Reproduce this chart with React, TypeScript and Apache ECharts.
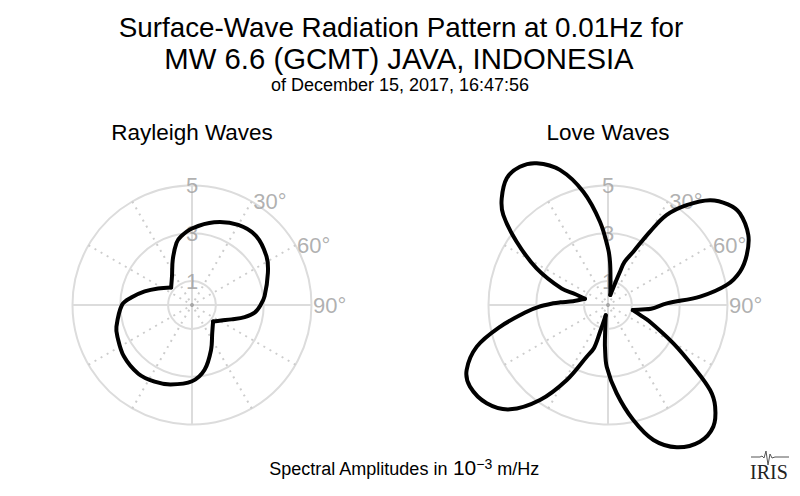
import React, { useEffect, useRef } from 'react';
import * as echarts from 'echarts';

// Rayleigh-wave pattern: azimuth (deg, clockwise from north) and amplitude (1e-3 m/Hz)
const rayleighAngles = [0, 15, 30, 43, 57, 67, 83, 90, 97, 103, 110, 118, 128, 144, 157, 169, 180, 195, 206, 218, 233, 247, 254, 270, 277, 286, 296, 310, 325, 337, 346, 351, 360];
const rayleighRadii = [3.2, 3.58, 3.87, 3.94, 3.72, 3.45, 3.06, 2.87, 2.64, 2.26, 1.76, 1.38, 1.12, 1.44, 2.04, 2.76, 3.19, 3.44, 3.57, 3.65, 3.57, 3.39, 3.29, 2.93, 2.56, 2.06, 1.58, 1.14, 1.46, 2.06, 2.68, 2.91, 3.2];
// azimuths where the two lobes meet in a sharp corner
const rayleighCusps = [128, 310];

// Love-wave pattern
const loveAngles = [0, 2.7, 6.2, 13, 18, 19.8, 21, 25.4, 29.8, 33.1, 38.2, 44.2, 50, 55.2, 63.5, 70.2, 75.8, 80.4, 84.8, 88.4, 95, 97.4, 101.6, 107.8, 111.3, 120.4, 125.9, 129.8, 133.5, 139.1, 146.1, 154.2, 161.4, 167.6, 174.4, 181.2, 184, 185, 192.6, 196.5, 198, 202.4, 208.8, 215.6, 223.2, 231, 239.4, 245.3, 252.4, 258.6, 265.3, 268.5, 271.8, 273.2, 276.2, 285.1, 288.4, 289.5, 297.2, 304.7, 310.7, 315.1, 321.4, 327.5, 333.3, 340.4, 347.7, 354.5, 360];
const loveRadii = [2.37, 1.8, 0.97, 0.43, 0.95, 1.48, 1.93, 2.47, 3.54, 4.5, 5.32, 6.12, 6.55, 6.72, 6.56, 6.17, 5.7, 5.04, 3.87, 2.46, 1.81, 1.43, 1.06, 1.45, 1.84, 3.17, 4.41, 5.56, 6.18, 6.73, 6.89, 6.61, 5.96, 4.93, 3.71, 2.58, 1.8, 1.47, 0.44, 1.18, 1.89, 2.34, 3.58, 4.89, 5.99, 6.53, 6.71, 6.51, 5.76, 4.61, 3.41, 2.9, 2.29, 2.0, 1.47, 1.0, 1.46, 2.05, 3.36, 4.65, 5.78, 6.3, 6.79, 6.86, 6.64, 6.0, 4.85, 3.5, 2.37];
// azimuths of the petal tips near the centre
const loveCusps = [13, 101.6, 192.6, 285.1];

const ringLabels = [1, 3, 5];
const angleLabels = [30, 60, 90];
const radiusMax = 5;       // outer grid ring
const patternMax = 7.5;    // room for lobes that go past the outer ring

const GRID_RADIUS = 119.5;
const CENTERS = [[192, 305], [608, 305]];

const FONT = '"Liberation Sans", Arial, Helvetica, sans-serif';
const GRID = '#dcdcdc';
const SPOKE = '#cccccc';
const LABEL = '#9c9c9c';
const CLEAR = 'rgba(0,0,0,0)';

function gridSeries(polarIndex: number) {
  const base = { coordinateSystem: 'polar', polarIndex, silent: true, animation: false };
  return [
    {
      ...base, type: 'line', symbol: 'none', z: 1,
      data: [[radiusMax, 0], [radiusMax, 180]],
      lineStyle: { color: GRID, width: 2 },
    },
    {
      ...base, type: 'line', symbol: 'none', z: 1,
      data: [[radiusMax, 90], [radiusMax, 270]],
      lineStyle: { color: GRID, width: 2 },
    },
    {
      ...base, type: 'scatter', z: 2, symbolSize: 1, clip: false,
      itemStyle: { color: CLEAR },
      data: ringLabels.map((v) => [v, 0]),
      label: {
        show: true, position: 'inside', formatter: (p: any) => String(p.value[0]),
        color: LABEL, fontSize: 22, fontFamily: FONT,
      },
    },
    {
      ...base, type: 'scatter', z: 2, symbolSize: 1, clip: false,
      itemStyle: { color: CLEAR },
      data: angleLabels.map((a) => [radiusMax, a]),
      label: {
        show: true, position: 'right', distance: 1, formatter: (p: any) => p.value[1] + '°',
        color: LABEL, fontSize: 22, fontFamily: FONT,
      },
    },
    {
      ...base, type: 'scatter', z: 2, symbolSize: 4,
      itemStyle: { color: '#999999' },
      data: [[0, 0]],
    },
  ];
}

// Split the closed curve at its cusps; each lobe becomes one smooth polyline
function splitAtCusps(angles: number[], radii: number[], cusps: number[]) {
  const n = angles.length - 1; // last point repeats the first
  const pts = angles.slice(0, n).map((a, i) => [radii[i], a]);
  const idx = cusps.map((c) => angles.indexOf(c));
  const segs: number[][][] = [];
  for (let k = 0; k < idx.length; k++) {
    const s = idx[k];
    const e = idx[(k + 1) % idx.length];
    const seg: number[][] = [];
    let i = s;
    for (;;) {
      seg.push(pts[i]);
      if (i === e && seg.length > 1) break;
      i = (i + 1) % n;
    }
    segs.push(seg);
  }
  return segs;
}

function patternSeries(polarIndex: number, angles: number[], radii: number[], cusps: number[]) {
  const segs = splitAtCusps(angles, radii, cusps);
  return {
    type: 'custom', coordinateSystem: 'polar', polarIndex, silent: true, animation: false,
    z: 5, clip: false,
    data: segs.map((s) => s[0]),
    renderItem: (params: any, api: any) => {
      const seg = segs[params.dataIndex];
      const points = seg.map((p) => api.coord(p));
      return {
        type: 'polyline',
        shape: { points, smooth: 0.35 },
        style: { stroke: '#000000', lineWidth: 4, fill: null, lineJoin: 'round', lineCap: 'round' },
      };
    },
  };
}

const ringColors = [CLEAR, GRID, CLEAR, GRID, CLEAR, GRID];
const spokeColors = [CLEAR, SPOKE, SPOKE];
const hidden = { axisLine: { show: false }, axisTick: { show: false }, axisLabel: { show: false } };

export default function App() {
  const ref = useRef<HTMLDivElement>(null);
  useEffect(() => {
    if (!ref.current) return;
    const chart = echarts.init(ref.current, undefined, { renderer: 'svg' });
    const text = (t: string, x: number, y: number, size: number, extra: any = {}) => ({
      type: 'text', x, y, silent: true,
      style: { text: t, fill: '#000', fontSize: size, fontFamily: FONT, textAlign: 'center', textVerticalAlign: 'middle', ...extra },
    });
    const polar = [
      { center: CENTERS[0], radius: GRID_RADIUS },
      { center: CENTERS[1], radius: GRID_RADIUS },
      { center: CENTERS[0], radius: GRID_RADIUS * patternMax / radiusMax },
      { center: CENTERS[1], radius: GRID_RADIUS * patternMax / radiusMax },
    ];
    const radiusAxis = [0, 1, 2, 3].map((i) => ({
      polarIndex: i, type: 'value', min: 0, max: i < 2 ? radiusMax : patternMax, interval: 1, ...hidden,
      splitLine: { show: i < 2, lineStyle: { color: ringColors, width: 2 } },
    }));
    const angleAxis = [0, 1, 2, 3].map((i) => ({
      polarIndex: i, type: 'value', min: 0, max: 360, interval: 30, startAngle: 90, clockwise: true, ...hidden,
      splitLine: { show: i < 2, lineStyle: { color: spokeColors, width: 2, type: [2, 5] } },
    }));
    chart.setOption({
      animation: false,
      backgroundColor: '#ffffff',
      polar,
      radiusAxis,
      angleAxis,
      series: [
        ...gridSeries(0),
        ...gridSeries(1),
        patternSeries(2, rayleighAngles, rayleighRadii, rayleighCusps),
        patternSeries(3, loveAngles, loveRadii, loveCusps),
      ],
      graphic: [
        text('Surface-Wave Radiation Pattern at 0.01Hz for', 401, 27, 27.8),
        text('MW 6.6 (GCMT) JAVA, INDONESIA', 399, 58, 29.3),
        text('of December 15, 2017, 16:47:56', 400, 84.5, 18),
        text('Rayleigh Waves', 192, 132, 22.5),
        text('Love Waves', 608, 132, 22.5),
        {
          type: 'text', x: 404, y: 467, silent: true,
          style: {
            text: '{a|Spectral Amplitudes in }{b|10}{c|−3}{a| m/Hz}',
            textAlign: 'center', textVerticalAlign: 'middle',
            rich: {
              a: { fontSize: 18, fontFamily: FONT, fill: '#000', verticalAlign: 'bottom' },
              b: { fontSize: 21, fontFamily: FONT, fill: '#000', verticalAlign: 'bottom' },
              c: { fontSize: 14, fontFamily: FONT, fill: '#000', verticalAlign: 'top' },
            },
          },
        },
        {
          type: 'polyline', silent: true,
          shape: { points: [[751, 457], [760, 457], [762, 456], [764, 458], [766, 451], [768, 465], [770, 454], [772, 458], [775, 457], [789, 457]] },
          style: { stroke: '#555', lineWidth: 1, fill: 'none' },
        },
        text('IRIS', 769, 472, 20, { fontFamily: '"Liberation Serif", "DejaVu Serif", serif', fill: '#222' }),
      ],
    });
    return () => chart.dispose();
  }, []);
  return <div ref={ref} style={{ position: 'fixed', left: 0, top: 0, width: 800, height: 496 }} />;
}
